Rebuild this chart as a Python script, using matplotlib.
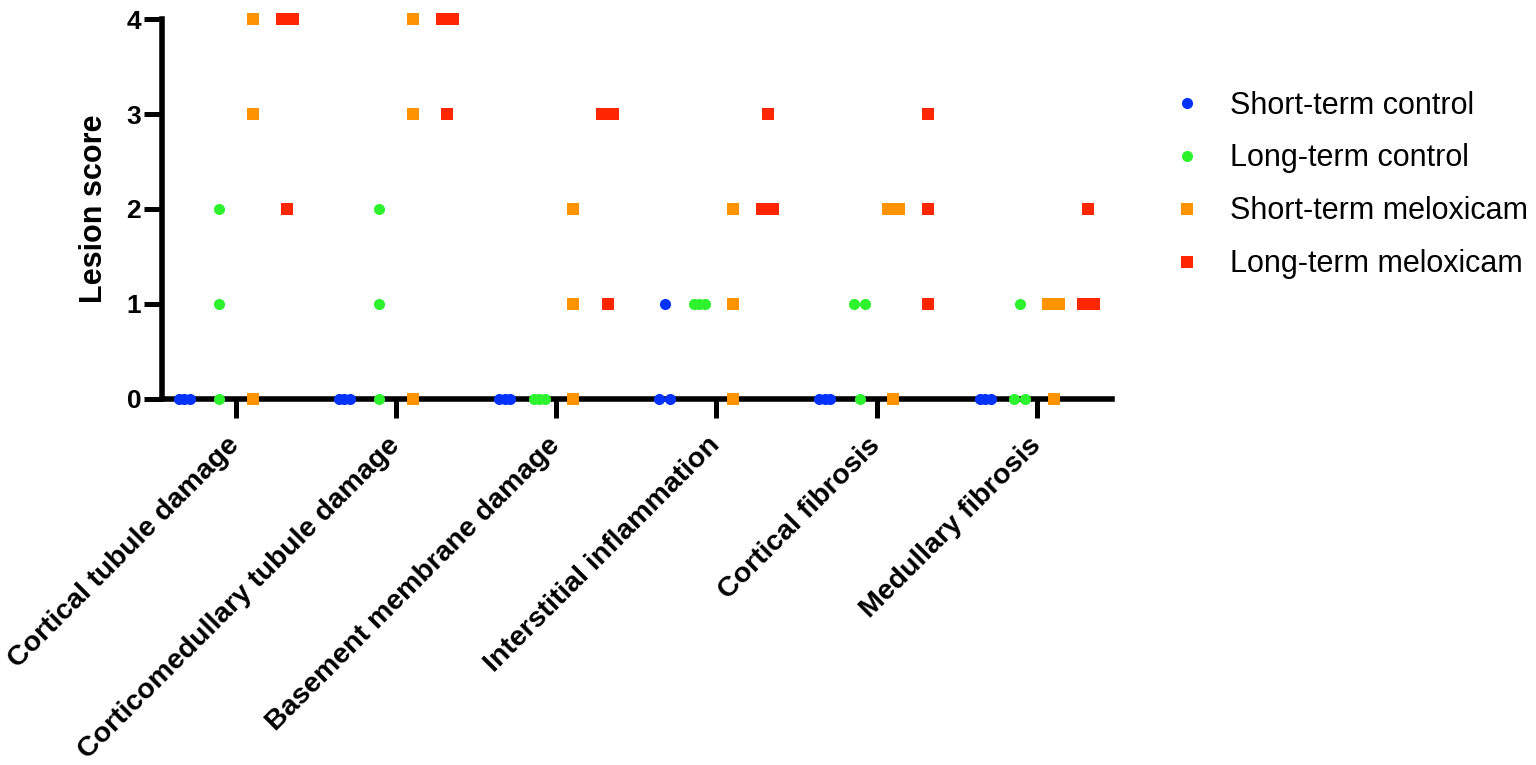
import numpy as np
import matplotlib
matplotlib.use('Agg')
import matplotlib.pyplot as plt
from matplotlib.lines import Line2D

plt.rcParams['font.family'] = ['Liberation Sans', 'DejaVu Sans']

# ---------------- data ----------------
categories = ['Cortical tubule damage', 'Corticomedullary tubule damage',
              'Basement membrane damage', 'Interstitial inflammation',
              'Cortical fibrosis', 'Medullary fibrosis']
series_names = ['Short-term control', 'Long-term control',
                'Short-term meloxicam', 'Long-term meloxicam']
short_control = [[0, 0, 0], [0, 0, 0], [0, 0, 0], [1, 0, 0], [0, 0, 0], [0, 0, 0]]
long_control = [[2, 1, 0], [2, 1, 0], [0, 0, 0], [1, 1, 1], [1, 1, 0], [1, 0, 0]]
short_meloxicam = [[4, 3, 0], [4, 3, 0], [2, 1, 0], [2, 1, 0], [2, 2, 0], [1, 1, 0]]
long_meloxicam = [[4, 4, 2], [4, 4, 3], [3, 3, 1], [3, 2, 2], [3, 2, 1], [2, 1, 1]]
y_ticks = [0, 1, 2, 3, 4]
y_label = 'Lesion score'

# ---------------- style ----------------
series = [short_control, long_control, short_meloxicam, long_meloxicam]
colors = ['#0433FF', '#2EF22E', '#FF9300', '#FF2600']
markers = ['o', 'o', 's', 's']
group_offsets = [-0.322, -0.106, 0.106, 0.322]
spread = 0.034  # half-width of the horizontal spread of tied points

W, H = 1536, 765
fig = plt.figure(figsize=(W / 100, H / 100), dpi=100)
ax = fig.add_axes([162 / W, 366.5 / H, 950 / W, 379 / H])

for si, data in enumerate(series):
    xs, ys = [], []
    for ci, vals in enumerate(data):
        for v in sorted(set(vals)):
            n = vals.count(v)
            offs = np.linspace(-spread, spread, n) if n > 1 else [0.0]
            for o in offs:
                xs.append(ci + group_offsets[si] + o)
                ys.append(v)
    ax.plot(xs, ys, ls='none', marker=markers[si], color=colors[si],
            markersize=8, markeredgewidth=0, clip_on=False, zorder=3)

ax.set_xlim(-0.46, len(categories) - 1 + 0.47)
ax.set_ylim(0, 4)

for s in ['top', 'right']:
    ax.spines[s].set_visible(False)
for s in ['left', 'bottom']:
    ax.spines[s].set_linewidth(4)
    ax.spines[s].set_capstyle('projecting')

ax.set_yticks(y_ticks)
ax.set_yticklabels([str(t) for t in y_ticks], fontsize=19, fontweight='bold')
ax.tick_params(axis='y', length=13, width=3.6, pad=2, direction='out')

ax.set_xticks(range(len(categories)))
ax.set_xticklabels(categories, rotation=45, ha='right', va='center',
                   rotation_mode='anchor', fontsize=20.5, fontweight='bold')
ax.tick_params(axis='x', length=14, width=3.6, pad=17, direction='out')

ax.set_ylabel(y_label, fontsize=22, fontweight='bold')
ax.yaxis.set_label_coords((94 - 162) / 950, 0.5)
ax.yaxis.label.set_verticalalignment('center')

handles = [Line2D([], [], ls='none', marker=m, color=c, markersize=8,
                  markeredgewidth=0) for m, c in zip(markers, colors)]
fig.legend(handles, series_names, loc='upper left',
           bbox_to_anchor=(1175 / W, 1 - 90.5 / H), frameon=False,
           fontsize=22, handlelength=0.8, handletextpad=1.0,
           labelspacing=0.75, borderpad=0, borderaxespad=0)

fig.savefig('out.png', dpi=100)
